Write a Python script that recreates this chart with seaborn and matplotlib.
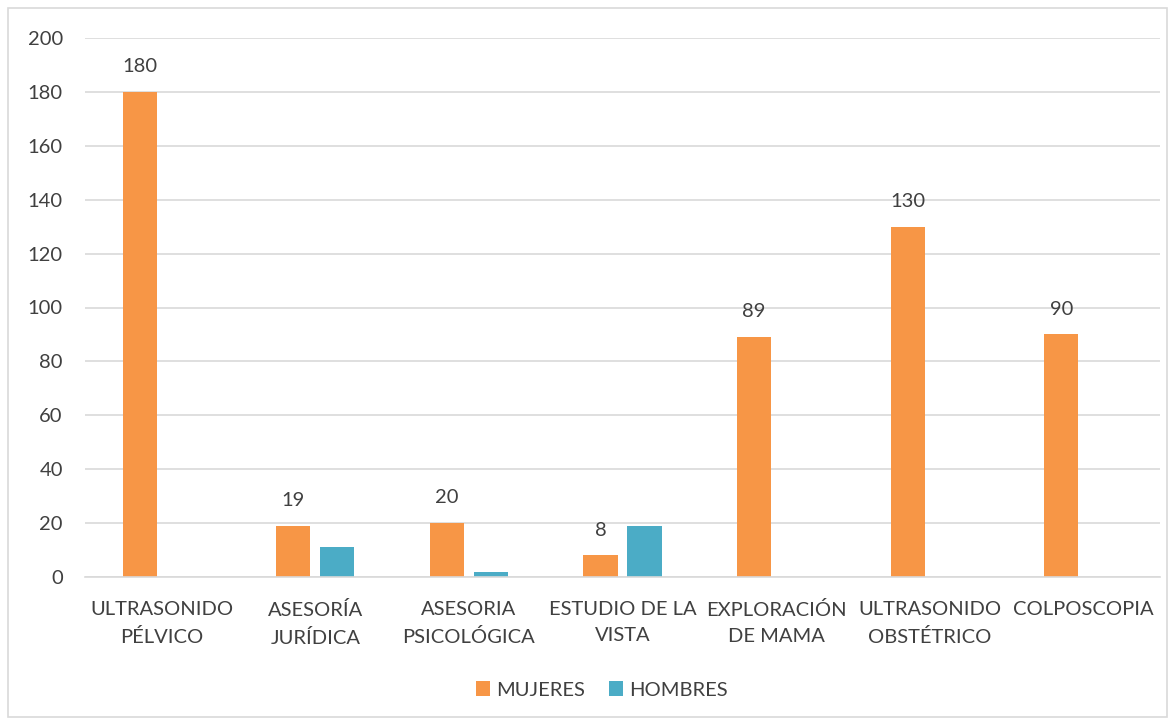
import matplotlib
matplotlib.use("Agg")
import matplotlib.pyplot as plt
import seaborn as sns
import pandas as pd
from matplotlib.patches import Rectangle

categories = ["ULTRASONIDO\nPÉLVICO", "ASESORÍA\nJURÍDICA", "ASESORIA\nPSICOLÓGICA",
              "ESTUDIO DE LA\nVISTA", "EXPLORACIÓN\nDE MAMA", "ULTRASONIDO\nOBSTÉTRICO", "COLPOSCOPIA"]
mujeres = [180, 19, 20, 8, 89, 130, 90]
hombres = [0, 11, 2, 19, 0, 0, 0]
series = ["MUJERES", "HOMBRES"]
colors = ["#F79646", "#4BACC6"]

df = pd.DataFrame({
    "cat": categories * 2,
    "val": mujeres + hombres,
    "serie": [series[0]] * len(categories) + [series[1]] * len(categories),
})

sns.set_theme(style="white")
plt.rcParams["font.family"] = ["Lato", "DejaVu Sans"]
txt = "#404040"
fs = 14.5

fig = plt.figure(figsize=(11.75, 7.25), dpi=100)
ax = fig.add_axes([85/1175, 1-577/725, 1075/1175, (577-38)/725])

sns.barplot(data=df, x="cat", y="val", hue="serie", palette=colors, ax=ax,
            width=0.573, gap=0.227, dodge=True, saturation=1, legend=True,
            edgecolor="none")

ax.set_ylim(0, 200)
ax.set_yticks(range(0, 201, 20))
ax.set_xlim(-0.5, len(categories) - 0.5)
ax.grid(axis="y", color="#D9D9D9", linewidth=1.2)
ax.set_axisbelow(True)
for s in ["top", "right", "left"]:
    ax.spines[s].set_visible(False)
ax.spines["bottom"].set_color("#D9D9D9")
ax.spines["bottom"].set_linewidth(1.2)
ax.tick_params(axis="both", length=0, labelsize=fs, colors=txt)
ax.tick_params(axis="x", pad=17)
ax.tick_params(axis="y", pad=16)
for t in ax.get_xticklabels():
    t.set_linespacing(1.7)
ax.set_xlabel("")
ax.set_ylabel("")

# data labels for MUJERES only
ax.bar_label(ax.containers[0], labels=[str(v) for v in mujeres], padding=12,
             fontsize=fs, color=txt)

h, l = ax.get_legend_handles_labels()
ax.legend_.remove()
fig.legend(h, l, loc="center", bbox_to_anchor=(602/1175, 1-690/725), ncol=2, frameon=False,
           fontsize=fs, labelcolor=txt, handlelength=0.7, handleheight=0.7,
           handletextpad=0.3, columnspacing=1.2)

fig.patches.append(Rectangle((8/1175, 8/725), 1-16/1175, 1-16/725, transform=fig.transFigure,
                             fill=False, edgecolor="#D9D9D9", linewidth=1.2))

fig.savefig("out.png", dpi=100)
